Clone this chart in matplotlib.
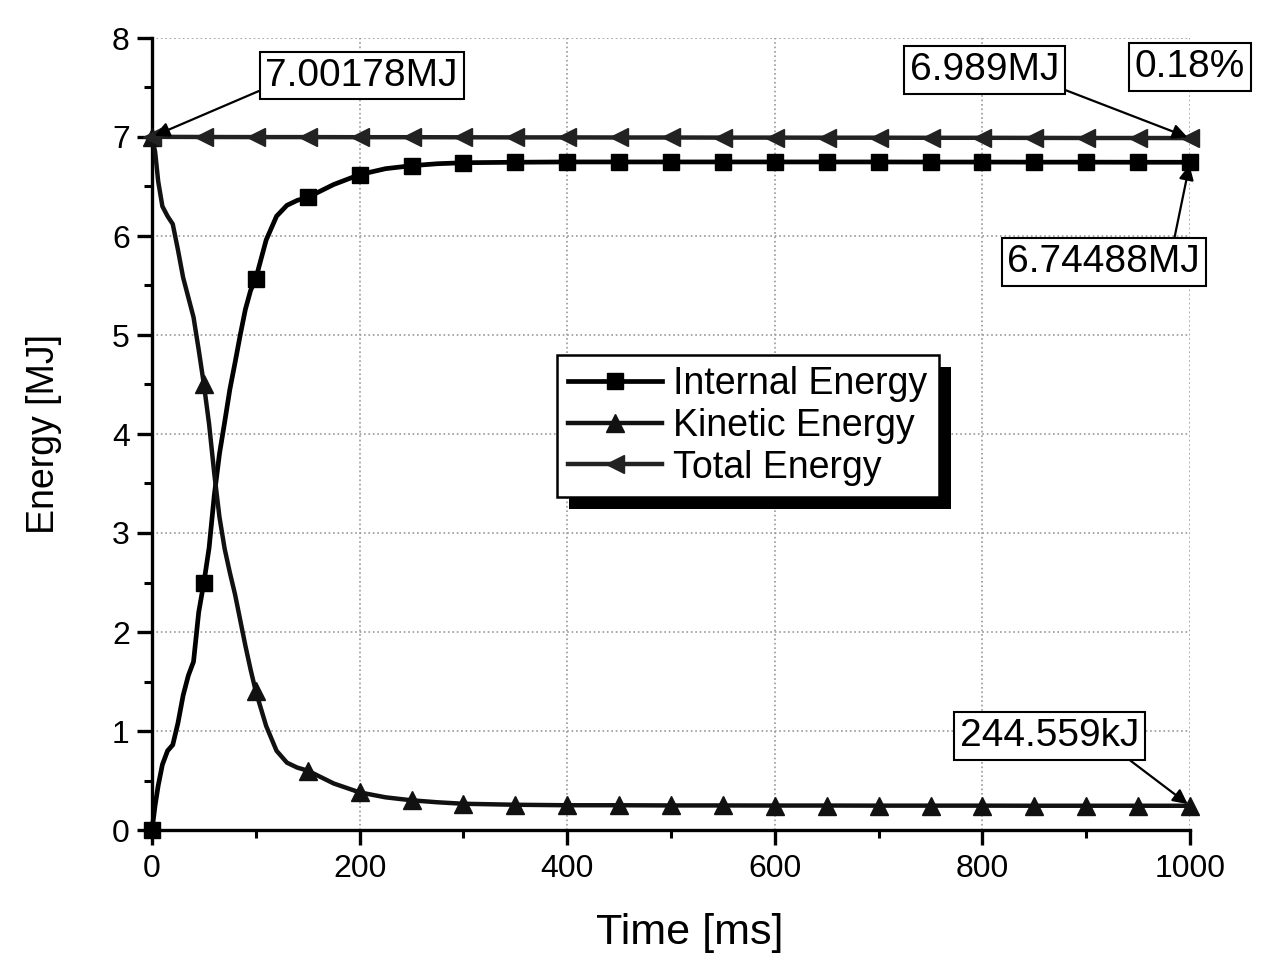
import matplotlib
matplotlib.use("Agg")
import matplotlib.pyplot as plt
from matplotlib.patches import Rectangle
from matplotlib.ticker import MultipleLocator

plt.rcParams['font.family'] = ['Liberation Sans', 'DejaVu Sans']

# ---- data ----
time_ms = [0, 3, 6, 10, 15, 20, 25, 30, 35, 40, 45, 50, 55, 60, 65, 70, 75, 80,
           85, 90, 95, 100, 110, 120, 130, 140, 150, 175, 200, 225, 250, 275,
           300, 350, 400, 450, 500, 550, 600, 650, 700, 750, 800, 850, 900,
           950, 1000]
internal = [0.00, 0.25, 0.45, 0.66, 0.80, 0.86, 1.08, 1.36, 1.56, 1.70, 2.20,
            2.50, 2.85, 3.38, 3.80, 4.12, 4.45, 4.72, 5.00, 5.26, 5.45, 5.57,
            5.96, 6.20, 6.31, 6.36, 6.39, 6.52, 6.62, 6.68, 6.71, 6.73,
            6.74, 6.745, 6.748, 6.748, 6.748, 6.748, 6.748, 6.748, 6.748,
            6.747, 6.747, 6.746, 6.746, 6.745, 6.74488]
kinetic = [7.00, 6.85, 6.55, 6.30, 6.20, 6.12, 5.86, 5.58, 5.38, 5.18, 4.85,
           4.50, 4.10, 3.60, 3.16, 2.84, 2.60, 2.38, 2.12, 1.86, 1.62, 1.40,
           1.05, 0.80, 0.68, 0.63, 0.60, 0.47, 0.38, 0.33, 0.30, 0.28,
           0.265, 0.255, 0.25, 0.25, 0.248, 0.248, 0.247, 0.247, 0.246,
           0.246, 0.246, 0.245, 0.245, 0.245, 0.244559]
total_time = [0, 50, 100, 150, 200, 250, 300, 350, 400, 450, 500, 550, 600,
              650, 700, 750, 800, 850, 900, 950, 1000]
total = [7.00178, 7.000, 6.999, 6.999, 6.998, 6.998, 6.997, 6.996, 6.996,
         6.995, 6.995, 6.994, 6.994, 6.993, 6.993, 6.992, 6.992, 6.991,
         6.990, 6.990, 6.989]

labels = ['Internal Energy', 'Kinetic Energy', 'Total Energy']
x_ticks = [0, 200, 400, 600, 800, 1000]
y_ticks = [0, 1, 2, 3, 4, 5, 6, 7, 8]

W, H = 1267, 955
fig = plt.figure(figsize=(W / 100, H / 100), dpi=100)
ax = fig.add_axes([152 / W, 1 - 830 / H, (1190 - 152) / W, (830 - 38) / H])

mk_main = [i for i, t in enumerate(time_ms) if t % 50 == 0]

ax.plot(time_ms, internal, color='black', lw=3.4, marker='s', ms=11,
        markevery=mk_main, label=labels[0], zorder=3, clip_on=False)
ax.plot(time_ms, kinetic, color='#111111', lw=3.2, marker='^', ms=13,
        markevery=mk_main, label=labels[1], zorder=3, clip_on=False)
ax.plot(total_time, total, color='#222222', lw=3.2, marker='<', ms=13,
        label=labels[2], zorder=3, clip_on=False)

ax.set_xlim(0, 1000)
ax.set_ylim(0, 8)
ax.set_xticks(x_ticks)
ax.set_yticks(y_ticks)
ax.xaxis.set_minor_locator(MultipleLocator(100))
ax.yaxis.set_minor_locator(MultipleLocator(0.5))
ax.grid(True, which='major', color='#999999', linestyle=':', lw=1.2)
for s in ['top', 'right']:
    ax.spines[s].set_visible(False)
for s in ['left', 'bottom']:
    ax.spines[s].set_linewidth(2.4)
ax.tick_params(which='major', direction='out', length=11, width=2.4,
               labelsize=23, pad=5)
ax.tick_params(which='minor', direction='out', length=6, width=2.2)
ax.tick_params(axis='x', pad=6)

ax.set_xlabel('Time [ms]', fontsize=31)
ax.xaxis.set_label_coords((690 - 152) / 1038, (830 - 913) / 792)
ax.set_ylabel('Energy [MJ]', fontsize=27, labelpad=36)

leg = ax.legend(loc='upper left', bbox_to_anchor=(557 / W, 1 - 355 / H),
                bbox_transform=fig.transFigure, fontsize=27, handlelength=2.5,
                handletextpad=0.3, labelspacing=0.15, borderpad=0.3,
                frameon=True, fancybox=False, framealpha=1, numpoints=1,
                borderaxespad=0)
leg.get_frame().set_edgecolor('black')
leg.get_frame().set_linewidth(1.8)
leg.set_zorder(6)

# annotations
bbox = dict(boxstyle='square,pad=0.15', fc='white', ec='black', lw=1.5)
fs = 28
ap = dict(arrowstyle='-|>', color='black', lw=1.6, mutation_scale=22,
          shrinkA=0, shrinkB=2)

ax.annotate('7.00178MJ', xy=(0, total[0]), xytext=(202, 7.62),
            ha='center', va='center', fontsize=fs, bbox=bbox,
            arrowprops=dict(ap, relpos=(0, 0.15)), zorder=7)
ax.annotate('6.989MJ', xy=(1000, total[-1]), xytext=(802, 7.68),
            ha='center', va='center', fontsize=fs, bbox=bbox,
            arrowprops=dict(ap, relpos=(1, 0)), zorder=7, annotation_clip=False)
ax.text(1000, 7.71, '0.18%', ha='center', va='center', fontsize=fs,
        bbox=bbox, zorder=7, clip_on=False)
ax.annotate('6.74488MJ', xy=(1000, internal[-1]), xytext=(917, 5.74),
            ha='center', va='center', fontsize=fs, bbox=bbox,
            arrowprops=dict(ap, relpos=(0.86, 1)), zorder=7,
            annotation_clip=False)
ax.annotate('244.559kJ', xy=(1000, kinetic[-1]), xytext=(865, 0.95),
            ha='center', va='center', fontsize=fs, bbox=bbox,
            arrowprops=dict(ap, relpos=(0.9, 0)), zorder=7,
            annotation_clip=False)

# legend drop shadow
fig.canvas.draw()
bb = leg.get_frame().get_window_extent(fig.canvas.get_renderer())
off = 12
shadow = Rectangle((bb.x0 + off, bb.y0 - off), bb.width, bb.height,
                   transform=None, facecolor='black', edgecolor='none',
                   zorder=5.5, clip_on=False)
ax.add_artist(shadow)

fig.savefig('out.png', dpi=100)
